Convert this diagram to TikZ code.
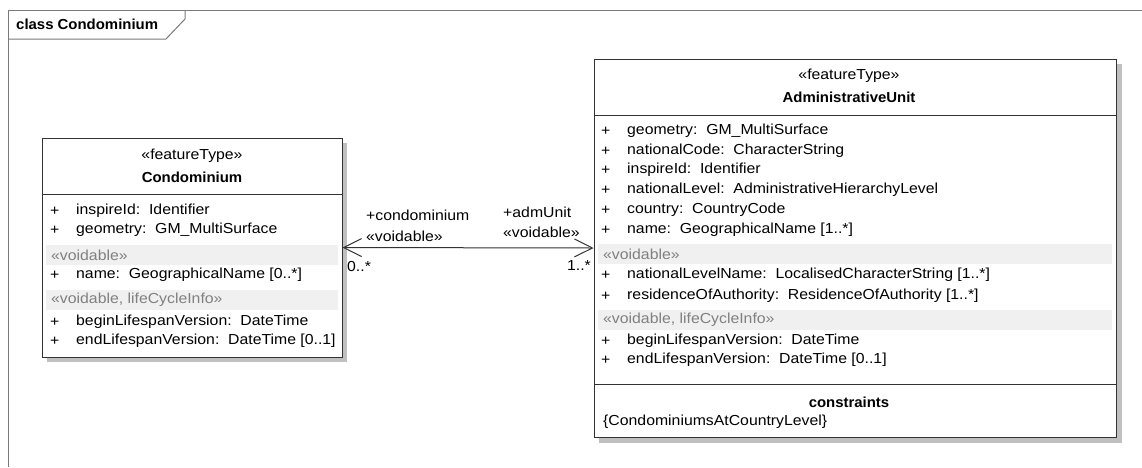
\documentclass[tikz,border=0pt]{standalone}
\usepackage{fontspec}
\setmainfont{Liberation Sans}[FakeStretch=1.09, BoldFeatures={FakeStretch=1.03}]
\usetikzlibrary{arrows.meta}
\definecolor{frameC}{HTML}{7A7A7A}
\definecolor{shadowC}{HTML}{C0C0C0}
\definecolor{bandC}{HTML}{F0F0F0}
\definecolor{bandT}{HTML}{808080}
\definecolor{lineC}{HTML}{333333}
\newcommand{\umlfont}{\fontsize{14.5}{17}\selectfont}
\tikzset{
  base/.style={font=\umlfont, inner sep=0pt},
  attr/.style={base, anchor=west},
  greytxt/.style={attr, text=bandT},
  ctr/.style={base, anchor=center},
  boldc/.style={base, anchor=center, font=\umlfont\bfseries},
  classbox/.style={draw=lineC, fill=white, line width=1pt, inner sep=0pt},
  sep/.style={draw=lineC, line width=1pt},
  assoc/.style={draw=lineC, line width=1pt, {Straight Barb[length=18pt,width=18pt,line width=1pt]}-{Straight Barb[length=18pt,width=18pt,line width=1pt]}},
}
\begin{document}
\begin{tikzpicture}[x=1pt,y=-1pt]
\useasboundingbox (0,0) rectangle (1142,467);
\fill[white] (0,0) rectangle (1142,467);
% frame
\draw[frameC, line width=1pt] (1142,10) -- (8,10) -- (8,467);
\draw[frameC, line width=1pt] (8,39) -- (166,39) -- (185,19) -- (185,10);
\node[base, anchor=west, font=\umlfont\bfseries] (title) at (16,24) {class Condominium};

% ---------- Condominium ----------
\fill[shadowC] (47,143) rectangle (347,362);
\node[classbox, minimum width=300pt, minimum height=219pt] (cond) at (192,247.5) {};
\draw[sep] (42,194) -- (342,194);
\fill[bandC] (46,245) rectangle (338,265);
\fill[bandC] (46,290) rectangle (338,310);
\node[ctr] (c1) at (192,156) {«featureType»};
\node[boldc] (c2) at (192,177) {Condominium};
\node[attr] (c3p) at (50,211) {+};
\node[attr] (c3) at (76,211) {inspireId:\ \ Identifier};
\node[attr] (c4p) at (50,230) {+};
\node[attr] (c4) at (76,230) {geometry:\ \ GM\_MultiSurface};
\node[greytxt] (c5) at (51,255) {«voidable»};
\node[attr] (c6p) at (50,275) {+};
\node[attr] (c6) at (76,275) {name:\ \ GeographicalName [0..*]};
\node[greytxt] (c7) at (51,300) {«voidable, lifeCycleInfo»};
\node[attr] (c8p) at (50,322) {+};
\node[attr] (c8) at (76,322) {beginLifespanVersion:\ \ DateTime};
\node[attr] (c9p) at (50,341) {+};
\node[attr] (c9) at (76,341) {endLifespanVersion:\ \ DateTime [0..1]};

% ---------- AdministrativeUnit ----------
\fill[shadowC] (599,64) rectangle (1122,443);
\node[classbox, minimum width=522pt, minimum height=378pt] (adm) at (855,248) {};
\draw[sep] (594,115) -- (1116,115);
\draw[sep] (594,384) -- (1116,384);
\fill[bandC] (598,244) rectangle (1112,264);
\fill[bandC] (598,310) rectangle (1112,330);
\node[ctr] (a1) at (849,76) {«featureType»};
\node[boldc] (a2) at (849,97) {AdministrativeUnit};
\node[attr] (a3p) at (601,131) {+};
\node[attr] (a3) at (627,131) {geometry:\ \ GM\_MultiSurface};
\node[attr] (a4p) at (601,151) {+};
\node[attr] (a4) at (627,151) {nationalCode:\ \ CharacterString};
\node[attr] (a5p) at (601,170) {+};
\node[attr] (a5) at (627,170) {inspireId:\ \ Identifier};
\node[attr] (a6p) at (601,190) {+};
\node[attr] (a6) at (627,190) {nationalLevel:\ \ AdministrativeHierarchyLevel};
\node[attr] (a7p) at (601,210) {+};
\node[attr] (a7) at (627,210) {country:\ \ CountryCode};
\node[attr] (a8p) at (601,230) {+};
\node[attr] (a8) at (627,230) {name:\ \ GeographicalName [1..*]};
\node[greytxt] (a9) at (603,254) {«voidable»};
\node[attr] (a10p) at (601,275) {+};
\node[attr] (a10) at (627,275) {nationalLevelName:\ \ LocalisedCharacterString [1..*]};
\node[attr] (a11p) at (601,296) {+};
\node[attr] (a11) at (627,296) {residenceOfAuthority:\ \ ResidenceOfAuthority [1..*]};
\node[greytxt] (a12) at (603,320) {«voidable, lifeCycleInfo»};
\node[attr] (a13p) at (601,341) {+};
\node[attr] (a13) at (627,341) {beginLifespanVersion:\ \ DateTime};
\node[attr] (a14p) at (601,360) {+};
\node[attr] (a14) at (627,360) {endLifespanVersion:\ \ DateTime [0..1]};
\node[boldc] (a15) at (849,402) {constraints};
\node[attr] (a16) at (603,422) {\{CondominiumsAtCountryLevel\}};

% ---------- association ----------
\draw[assoc] (cond.east) -- (adm.west);
\node[attr] (l1) at (366,215) {+condominium};
\node[attr] (l2) at (366,236) {«voidable»};
\node[attr] (l3) at (347,266) {0..*};
\node[attr] (l4) at (503,212) {+admUnit};
\node[attr] (l5) at (503,232) {«voidable»};
\node[base, anchor=east] (l6) at (591,266) {1..*};
\end{tikzpicture}
\end{document}
